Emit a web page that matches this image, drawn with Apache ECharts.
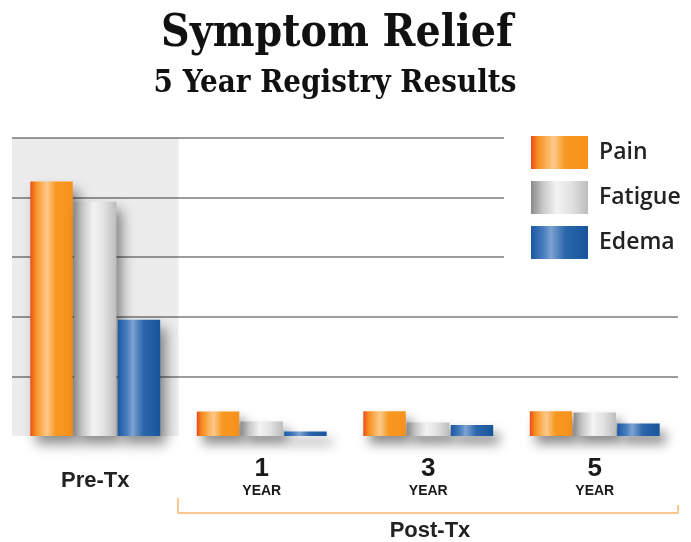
<!DOCTYPE html>
<html>
<head>
<meta charset="utf-8">
<script src="https://cdn.jsdelivr.net/npm/echarts@6/dist/echarts.min.js"></script>
<style>
html,body{margin:0;padding:0;background:#fff;}
#c{width:691px;height:542px;}
</style>
</head>
<body>
<div id="c"></div>
<script>
// ---- data ----
const categories = ['Pre-Tx', '1', '3', '5'];
const subLabels = ['', 'YEAR', 'YEAR', 'YEAR'];
const seriesNames = ['Pain', 'Fatigue', 'Edema'];
const pain = [85.4, 8.2, 8.3, 8.3];
const fatigue = [78.6, 4.9, 4.5, 7.9];
const edema = [39.0, 1.5, 3.7, 4.2];
const yTicks = [0, 20, 40, 60, 80, 100];
const titleText = 'Symptom Relief';
const subtitleText = '5 Year Registry Results';
const groupLabel = 'Post-Tx';

// ---- styles ----
function grad(stops) {
  return new echarts.graphic.LinearGradient(0, 0, 1, 0, stops.map(s => ({offset: s[0], color: s[1]})));
}
const painGrad = grad([[0, '#ec4a1c'], [0.12, '#f78d1e'], [0.3, '#fbb765'], [0.4, '#fcc88a'], [0.6, '#f8981f'], [1, '#f7921d']]);
const fatigueGrad = grad([[0, '#8a8a8a'], [0.2, '#c6c6c6'], [0.45, '#f3f3f3'], [0.7, '#e2e2e2'], [1, '#bdbdbd']]);
const edemaGrad = grad([[0, '#1b58a0'], [0.22, '#4a7ec0'], [0.35, '#7da3d2'], [0.6, '#2c66ab'], [1, '#17559c']]);
const colors = [painGrad, fatigueGrad, edemaGrad];
const values = [pain, fatigue, edema];

const shadow = {shadowBlur: 12, shadowOffsetX: 6, shadowOffsetY: 8, shadowColor: 'rgba(0,0,0,0.45)'};

const chart = echarts.init(document.getElementById('c'));

const barSeries = seriesNames.map((n, i) => ({
  name: n,
  type: 'bar',
  data: values[i],
  barCategoryGap: '22%',
  barGap: '3%',
  itemStyle: Object.assign({color: colors[i]}, shadow),
  emphasis: {disabled: true}
}));

// baseline line hidden, other grid lines grey
const splitColors = yTicks.map((t, i) => i === 0 ? 'rgba(0,0,0,0)' : '#7d7d7d');

const option = {
  animation: false,
  backgroundColor: '#fff',
  grid: {left: 12, right: 13, top: 138, bottom: 106, containLabel: false},
  xAxis: [{
    type: 'category',
    data: categories,
    axisLine: {show: false},
    axisTick: {show: false},
    axisLabel: {
      margin: 20,
      formatter: function (v) {
        const i = categories.indexOf(v);
        if (subLabels[i]) return '{num|' + v + '}\n{yr|' + subLabels[i] + '}';
        return '{pre|' + v + '}';
      },
      rich: {
        num: {fontFamily: 'Liberation Sans', fontWeight: 'bold', fontSize: 26, lineHeight: 26, color: '#1a1a1a'},
        yr: {fontFamily: 'Liberation Sans Narrow, Liberation Sans', fontWeight: 'bold', fontSize: 14, lineHeight: 18, color: '#1a1a1a'},
        pre: {fontFamily: 'Liberation Sans', fontWeight: 'bold', fontSize: 22, lineHeight: 50, color: '#222'}
      }
    }
  }, {
    type: 'value', min: 0, max: categories.length, show: false
  }],
  yAxis: {
    type: 'value',
    min: yTicks[0],
    max: yTicks[yTicks.length - 1],
    interval: yTicks[1] - yTicks[0],
    axisLabel: {show: false},
    axisLine: {show: false},
    axisTick: {show: false},
    splitLine: {show: true, lineStyle: {color: splitColors, width: 1.5}}
  },
  legend: {
    orient: 'vertical',
    left: 504,
    top: 128,
    padding: [8, 12, 8, 27],
    backgroundColor: '#fff',
    itemWidth: 57,
    itemHeight: 33,
    itemGap: 12,
    icon: 'rect',
    data: seriesNames,
    itemStyle: {shadowBlur: 0, shadowOffsetX: 0, shadowOffsetY: 0, shadowColor: 'rgba(0,0,0,0)'},
    textStyle: {fontFamily: 'Open Sans', fontWeight: 600, fontSize: 23, color: '#222', padding: [0, 0, 0, 6]}
  },
  series: [{
    type: 'scatter',
    xAxisIndex: 1,
    data: [[0, 0]],
    symbolSize: 0,
    silent: true,
    z: 1,
    markArea: {
      silent: true,
      itemStyle: {color: 'rgba(0,0,0,0.075)'},
      data: [[{xAxis: 0, yAxis: yTicks[0]}, {xAxis: 1, yAxis: yTicks[yTicks.length - 1]}]]
    }
  }].concat(barSeries),
  graphic: [
    {type: 'text', silent: true, style: {text: titleText, x: 337, y: 35, textAlign: 'center', textVerticalAlign: 'middle', font: 'bold 44px "DejaVu Serif Condensed"', fill: '#111'}},
    {type: 'text', silent: true, style: {text: subtitleText, x: 335, y: 84, textAlign: 'center', textVerticalAlign: 'middle', font: 'bold 31px "DejaVu Serif Condensed"', fill: '#111'}},
    {type: 'polyline', silent: true, shape: {points: [[178, 498], [178, 513], [678, 513], [678, 505]]}, style: {stroke: '#f7c98f', lineWidth: 2, fill: null}},
    {type: 'text', silent: true, style: {text: groupLabel, x: 430, y: 531, textAlign: 'center', textVerticalAlign: 'middle', font: 'bold 22px "Liberation Sans"', fill: '#222'}}
  ]
};
chart.setOption(option);
</script>
</body>
</html>
